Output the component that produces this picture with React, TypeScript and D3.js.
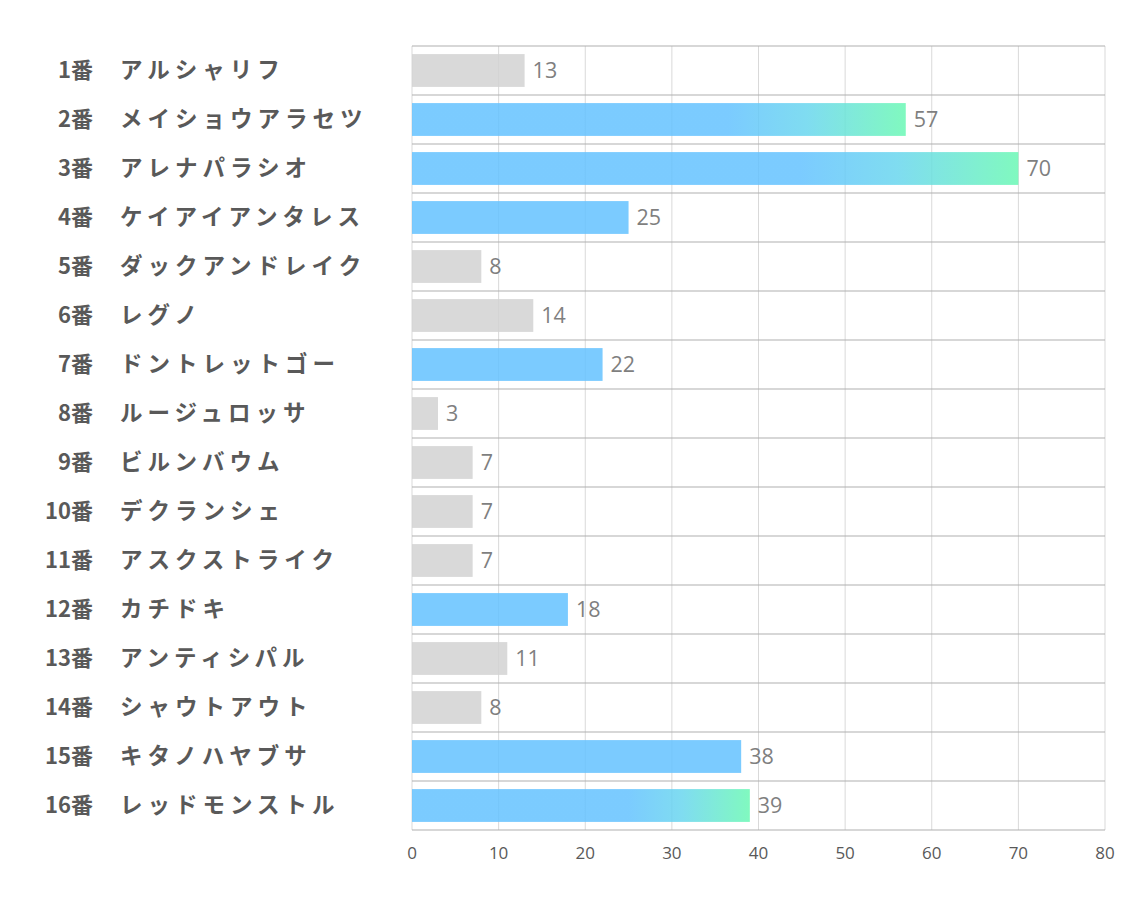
import React from "react";
import * as d3 from "d3";

const numbers = ["1番","2番","3番","4番","5番","6番","7番","8番","9番","10番","11番","12番","13番","14番","15番","16番"];
const names = ["アルシャリフ","メイショウアラセツ","アレナパラシオ","ケイアイアンタレス","ダックアンドレイク","レグノ","ドントレットゴー","ルージュロッサ","ビルンバウム","デクランシェ","アスクストライク","カチドキ","アンティシパル","シャウトアウト","キタノハヤブサ","レッドモンストル"];
const values = [13,57,70,25,8,14,22,3,7,7,7,18,11,8,38,39];
// 0 = gray, 1 = blue, 2 = blue→green gradient
const kinds = [0,2,2,1,0,0,1,0,0,0,0,1,0,0,1,2];
const ticks = [0,10,20,30,40,50,60,70,80];

const W = 1134, H = 907;
const left = 412, right = 1105, top = 46, bottom = 830;

export default function App() {
  const x = d3.scaleLinear().domain([0, 80]).range([left, right]);
  const y = d3.scaleBand<number>().domain(d3.range(values.length)).range([top, bottom]).paddingInner(0.33).paddingOuter(0.165);
  const rowH = (bottom - top) / values.length;
  const fills = ["#D2D2D2", "#64C2FF", "url(#grad)"];
  return (
    <svg width={W} height={H} style={{ position: "absolute", left: 0, top: 0, background: "#fff" }}>
      <defs>
        <linearGradient id="grad" x1="0" x2="1" y1="0" y2="0">
          <stop offset="0" stopColor="#64C2FF" />
          <stop offset="0.64" stopColor="#64C2FF" />
          <stop offset="0.8" stopColor="#69D6EE" />
          <stop offset="1" stopColor="#6AF8B4" />
        </linearGradient>
      </defs>
      {ticks.map((t) => (
        <line key={"v" + t} x1={x(t)} x2={x(t)} y1={top} y2={bottom} stroke="#D9D9D9" strokeWidth={1} />
      ))}
      {d3.range(values.length + 1).map((i) => (
        <line key={"h" + i} x1={left} x2={right} y1={top + i * rowH} y2={top + i * rowH} stroke="#AFAFAF" strokeWidth={1} />
      ))}
      {values.map((v, i) => (
        <g key={"b" + i}>
          <rect x={x(0)} y={y(i)} width={x(v) - x(0)} height={y.bandwidth()} fill={fills[kinds[i]]} fillOpacity={0.85} />
          <text x={x(v) + 8} y={y(i)! + y.bandwidth() / 2} dy="0.36em" fontSize={21.5} fill="#7F7F7F" fontFamily="'Open Sans', 'Noto Sans', sans-serif">{v}</text>
          <text x={93} y={top + (i + 0.5) * rowH} dy="0.35em" textAnchor="end" fontSize={22} fontWeight="bold" fill="#595959" fontFamily="'Noto Sans CJK JP', sans-serif">{numbers[i]}</text>
          <text x={120} y={top + (i + 0.5) * rowH} dy="0.35em" fontSize={22.5} fontWeight="bold" fill="#595959" letterSpacing="5px" fontFamily="'Noto Sans CJK JP', sans-serif">{names[i]}</text>
        </g>
      ))}
      {ticks.map((t) => (
        <text key={"t" + t} x={x(t)} y={853} dy="0.35em" textAnchor="middle" fontSize={17} fill="#595959" fontFamily="'Open Sans', 'Noto Sans', sans-serif">{t}</text>
      ))}
    </svg>
  );
}
